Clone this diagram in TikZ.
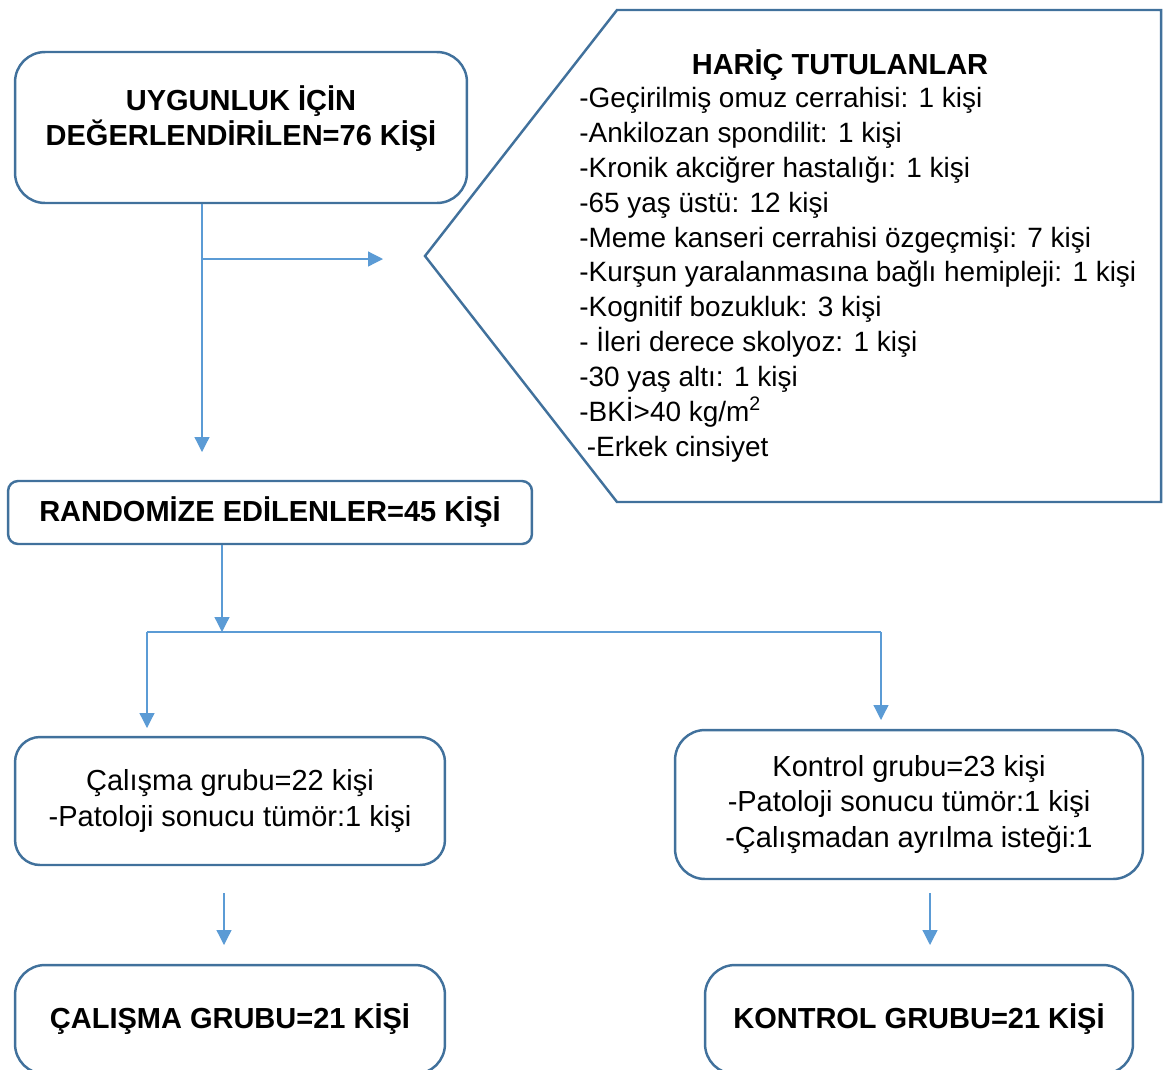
\documentclass[tikz,border=0pt]{standalone}
\usepackage{fontspec}
\setmainfont{Liberation Sans}
\usetikzlibrary{positioning, arrows.meta}
\definecolor{FrameBlue}{RGB}{65, 113, 156}
\definecolor{LinkBlue}{RGB}{91, 155, 213}

\tikzset{
    box/.style={draw=FrameBlue, line width=1.4pt, align=center, inner sep=0pt,
        font=\fontsize{16.5}{20}\selectfont},
    boldbox/.style={box, font=\fontsize{16.5}{20}\selectfont\bfseries},
    link/.style={draw=LinkBlue, line width=0.7pt},
    linkarrow/.style={link, -{Triangle[width=8.5pt,length=8.5pt]}}
}

\begin{document}
\begin{tikzpicture}[x=0.02cm, y=-0.02cm]
    \useasboundingbox (0,0) rectangle (1165,1069);

    % Boxes
    \node[boldbox, minimum width=9.04cm, minimum height=3.02cm, rounded corners=0.6cm]
        (elig) at (241,127.5) {UYGUNLUK İÇİN\\DEĞERLENDİRİLEN=76 KİŞİ\\[-0.22cm]};
    \node[boldbox, minimum width=10.48cm, minimum height=1.26cm, rounded corners=0.2cm]
        (rand) at (270,512.5) {RANDOMİZE EDİLENLER=45 KİŞİ};
    \node[box, minimum width=8.6cm, minimum height=2.56cm, rounded corners=0.5cm]
        (study) at (230,801) {Çalışma grubu=22 kişi\\-Patoloji sonucu tümör:1 kişi};
    \node[box, minimum width=9.36cm, minimum height=2.98cm, rounded corners=0.6cm]
        (control) at (909,804.5) {Kontrol grubu=23 kişi\\-Patoloji sonucu tümör:1 kişi\\-Çalışmadan ayrılma isteği:1};
    \node[boldbox, minimum width=8.6cm, minimum height=2.18cm, rounded corners=0.6cm]
        (studyend) at (230,1019.5) {ÇALIŞMA GRUBU=21 KİŞİ};
    \node[boldbox, minimum width=8.56cm, minimum height=2.18cm, rounded corners=0.6cm]
        (controlend) at (919,1019.5) {KONTROL GRUBU=21 KİŞİ};

    % Excluded
    \draw[FrameBlue, line width=1.4pt] (617,10) -- (1161,10) -- (1161,502) -- (617,502) -- (425,256) -- cycle;
    \node[font=\fontsize{16.5}{20}\selectfont\bfseries] (exhead) at (840,65) {HARİÇ TUTULANLAR};
    \node[anchor=north west, align=left, inner sep=0pt, font=\fontsize{15.9}{19.85}\selectfont]
        (exlist) at (579,87) {-Geçirilmiş omuz cerrahisi: 1 kişi\\
        -Ankilozan spondilit: 1 kişi\\
        -Kronik akciğrer hastalığı: 1 kişi\\
        -65 yaş üstü: 12 kişi\\
        -Meme kanseri cerrahisi özgeçmişi: 7 kişi\\
        -Kurşun yaralanmasına bağlı hemipleji: 1 kişi\\
        -Kognitif bozukluk: 3 kişi\\
        - İleri derece skolyoz: 1 kişi\\
        -30 yaş altı: 1 kişi\\
        -BKİ>40 kg/m\textsuperscript{2}\\
        \hspace{0.15cm}-Erkek cinsiyet};

    % Connector points
    \coordinate (split1) at (202,259);
    \coordinate (down1) at (202,452);
    \coordinate (side1) at (383,259);
    \coordinate (split2) at (222,632);
    \coordinate (left2) at (147,632);
    \coordinate (right2) at (881,632);
    \coordinate (lefttip) at (147,728);
    \coordinate (righttip) at (881,720);
    \coordinate (lefttop) at (224,893);
    \coordinate (leftend) at (224,945);
    \coordinate (righttop) at (930,893);
    \coordinate (rightend) at (930,945);

    % Connectors
    \draw[linkarrow] (split1 |- elig.south) -- (down1);
    \draw[linkarrow] (split1) -- (side1);
    \draw[linkarrow] (split2 |- rand.south) -- (split2);
    \draw[link] (left2) -- (right2);
    \draw[linkarrow] (left2) -- (lefttip);
    \draw[linkarrow] (right2) -- (righttip);
    \draw[linkarrow] (lefttop) -- (leftend);
    \draw[linkarrow] (righttop) -- (rightend);
\end{tikzpicture}
\end{document}
